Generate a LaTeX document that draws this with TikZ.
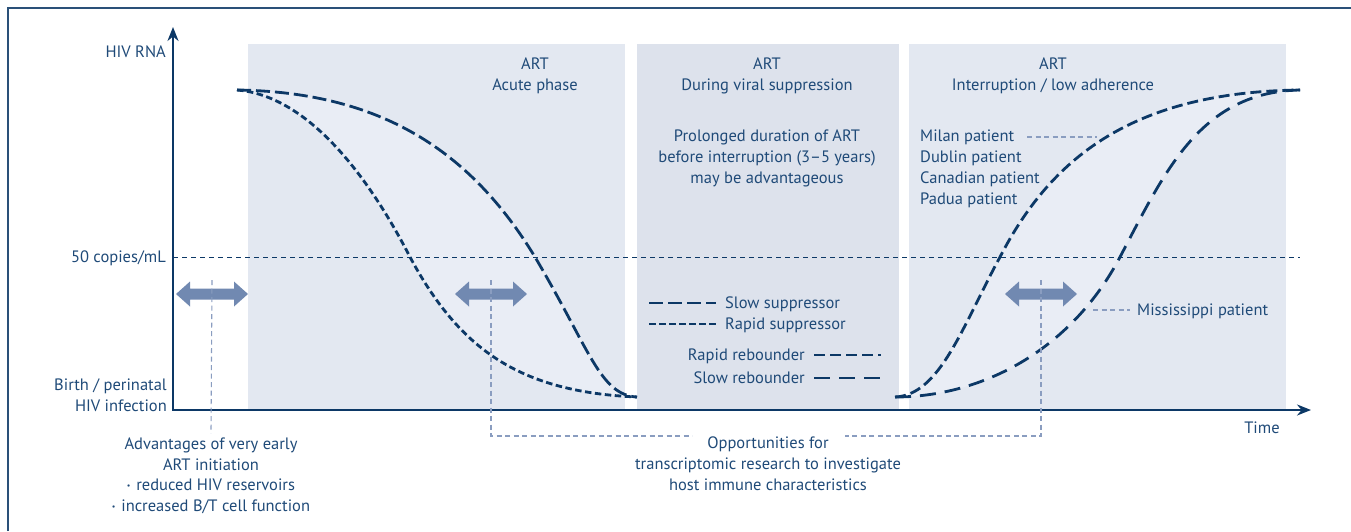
\documentclass[tikz,border=0pt]{standalone}
\usepackage{fontspec}
\setmainfont{PT Sans}
\usetikzlibrary{arrows.meta}
\definecolor{txt}{HTML}{1F4A78}
\definecolor{ln}{HTML}{0C3866}
\definecolor{framec}{HTML}{2A5078}
\definecolor{panelA}{HTML}{E3E8F1}
\definecolor{panelB}{HTML}{DDE2EC}
\definecolor{betweenc}{HTML}{E9EDF5}
\definecolor{arrowc}{HTML}{7189B1}
\definecolor{dotc}{HTML}{8A9DC0}
\newcommand{\bul}{\raisebox{0.25ex}{\fontsize{8}{8}\selectfont •}\hspace{0.35em}}
\tikzset{
  lbl/.style={inner sep=0pt, text=txt},
  curve/.style={draw=ln, line width=2.8pt},
  slowsup/.style={curve, dash pattern=on 14pt off 5pt},
  rapidsup/.style={curve, dash pattern=on 6.5pt off 3.5pt},
  rapidreb/.style={curve, dash pattern=on 11pt off 5pt},
  slowreb/.style={curve, dash pattern=on 16pt off 9pt},
  dotline/.style={draw=dotc, line width=1.1pt, dash pattern=on 5pt off 3.5pt},
  dblarr/.pic={\fill[arrowc] (-36,0) -- (-22,-12.5) -- (-22,-5.5) -- (22,-5.5) -- (22,-12.5) -- (36,0) -- (22,12.5) -- (22,5.5) -- (-22,5.5) -- (-22,12.5) -- cycle;}
}
\begin{document}
\begin{tikzpicture}[x=1pt,y=-1pt,font=\fontsize{16.5}{20.5}\selectfont]
\useasboundingbox (0,0) rectangle (1351,531);
% frame
\draw[framec, line width=2pt] (8,531) -- (8,8) -- (1351,8);
% panels
\fill[panelA] (248,44) rectangle (625,410);
\fill[panelB] (637,44) rectangle (899,410);
\fill[panelA] (909,44) rectangle (1286,410);
% lighter areas between curves
\begin{scope}
\clip (248,44) rectangle (625,410);
\fill[betweenc] (237,90) .. controls (300,95) and (360,160) .. (410,257) .. controls (460,350) and (520,392) .. (637,397)
  .. controls (600,395) and (590,350) .. (535,257) .. controls (470,150) and (380,92) .. (237,90);
\end{scope}
\begin{scope}
\clip (909,44) rectangle (1286,410);
\fill[betweenc] (895,397) .. controls (940,395) and (962,327) .. (1000,257) .. controls (1050,160) and (1130,92) .. (1300,90)
  .. controls (1200,92) and (1165,171.5) .. (1120,257) .. controls (1070,352) and (980,397) .. (895,397);
\end{scope}
% 50 copies line
\draw[ln, line width=1pt, dash pattern=on 5pt off 4pt] (173,257) -- (1300,257);
% curves
\draw[slowsup] (237,90) .. controls (380,92) and (470,150) .. (535,257) .. controls (590,350) and (600,395) .. (637,397);
\draw[rapidsup] (237,90) .. controls (300,95) and (360,160) .. (410,257) .. controls (460,350) and (520,392) .. (637,397);
\draw[rapidreb] (895,397) .. controls (940,395) and (962,327) .. (1000,257) .. controls (1050,160) and (1130,92) .. (1300,90);
\draw[slowreb] (895,397) .. controls (980,397) and (1070,352) .. (1120,257) .. controls (1165,171.5) and (1200,92) .. (1300,90);
% axes
\draw[ln, line width=2pt, {Stealth[length=14pt,width=11pt]}-{Stealth[length=14pt,width=11pt]}] (173,27) -- (173,410) -- (1311,410);
% double arrows
\coordinate (a1) at (212,294);
\coordinate (a2) at (491,294);
\coordinate (a3) at (1041,294);
\pic at (a1) {dblarr};
\pic at (a2) {dblarr};
\pic at (a3) {dblarr};
% axis labels
\node[lbl, anchor=base east] (hiv) at (166,57.5) {HIV RNA};
\node[lbl, anchor=base east] (fifty) at (166,262.5) {50 copies/mL};
\node[lbl, anchor=east, align=right] (birth) at (167,395) {Birth / perinatal\\HIV infection};
\node[lbl, anchor=base] (time) at (1262,433.5) {Time};
% panel titles
\node[lbl, align=center] (t1) at (535,76) {ART\\Acute phase};
\node[lbl, align=center] (t2) at (767,76) {ART\\During viral suppression};
\node[lbl, align=center] (t3) at (1053,76) {ART\\Interruption / low adherence};
\node[lbl, align=center, font=\fontsize{16.5}{21}\selectfont] (prol) at (767,158) {Prolonged duration of ART\\before interruption (3–5 years)\\may be advantageous};
\node[lbl, align=left, anchor=west, font=\fontsize{16.5}{21}\selectfont] (pats) at (920,168.5) {Milan patient\\Dublin patient\\Canadian patient\\Padua patient};
\node[lbl, anchor=base west] (miss) at (1137,315.5) {Mississippi patient};
% legend
\node[lbl, anchor=base west] (lss) at (725,308.5) {Slow suppressor};
\node[lbl, anchor=base west] (lrs) at (725,329.5) {Rapid suppressor};
\node[lbl, anchor=base east] (lrr) at (805,360.5) {Rapid rebounder};
\node[lbl, anchor=base east] (lsr) at (805,383.5) {Slow rebounder};
\draw[slowsup] (649,303) -- (716,303);
\draw[rapidsup] (649,324) -- (716,324);
\draw[rapidreb] (814,355) -- (881,355);
\draw[slowreb] (814,378) -- (880,378);
% leaders
\coordinate (milanEnd) at (1097,137);
\draw[dotline] (1027,137) -- (milanEnd);
\coordinate (missEnd) at (1093,310);
\draw[dotline] (missEnd) -- (1130,310);
% bottom texts
\node[lbl, align=center] (adv) at (211,476) {Advantages of very early\\ART initiation\\\bul reduced HIV reservoirs\\\bul increased B/T cell function};
\node[lbl, align=center, font=\fontsize{16.5}{21}\selectfont] (opp) at (768,464) {Opportunities for\\transcriptomic research to investigate\\host immune characteristics};
% dotted connectors
\draw[dotline] ([yshift=14pt]a1) -- (211,433);
\coordinate (gapL) at (692,436);
\coordinate (gapR) at (845,436);
\draw[dotline] ([yshift=14pt]a2) |- (gapL);
\draw[dotline] ([yshift=14pt]a3) |- (gapR);
\end{tikzpicture}
\end{document}
